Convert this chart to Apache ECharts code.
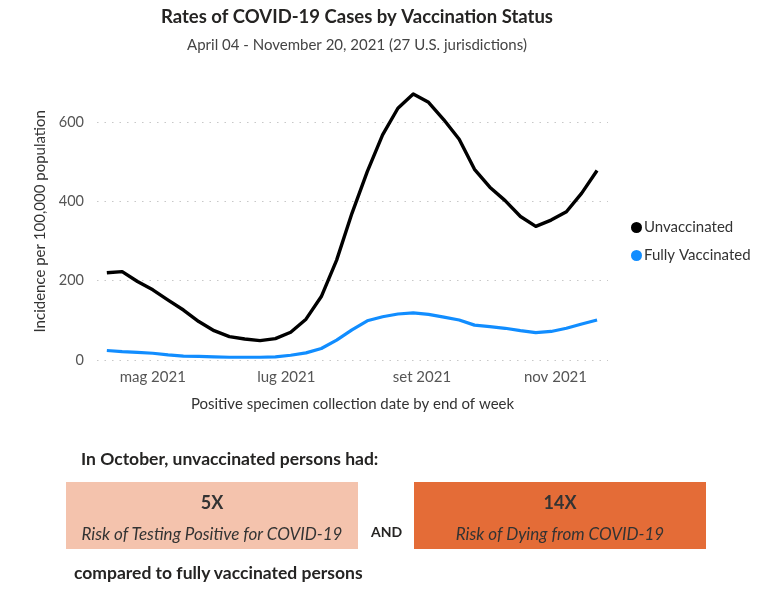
<!DOCTYPE html>
<html>
<head>
<meta charset="utf-8">
<title>Rates of COVID-19 Cases by Vaccination Status</title>
<script src="https://cdn.jsdelivr.net/npm/echarts@6/dist/echarts.min.js"></script>
<style>
    html, body { margin: 0; padding: 0; background: #fff; }
    #wrap { position: relative; width: 767px; height: 605px; font-family: Lato, "Open Sans", sans-serif; color: #252423; }
    #main { position: absolute; left: 0; top: 0; width: 767px; height: 605px; }
    .note { position: absolute; font-weight: bold; font-size: 17.5px; }
    .box { position: absolute; top: 482px; width: 292px; height: 67px; text-align: center; color: #333; }
    .box .big { font-weight: bold; font-size: 18px; margin-top: 9px; }
    .box .small { font-style: italic; font-size: 17px; margin-top: 10px; }
</style>
</head>
<body>
<div id="wrap">
    <div id="main"></div>
    <div class="note" style="left:81px; top:448px;">In October, unvaccinated persons had:</div>
    <div class="box" style="left:66px; background:#F4C3AD;">
        <div class="big">5X</div>
        <div class="small">Risk of Testing Positive for COVID-19</div>
    </div>
    <div class="note" style="left:371px; top:523px; font-size:14px;">AND</div>
    <div class="box" style="left:414px; background:#E46C37;">
        <div class="big">14X</div>
        <div class="small">Risk of Dying from COVID-19</div>
    </div>
    <div class="note" style="left:74px; top:562px;">compared to fully vaccinated persons</div>
</div>
<script>
// week ending dates (Saturdays)
var weekEnding = ['2021-04-10', '2021-04-17', '2021-04-24', '2021-05-01', '2021-05-08',
    '2021-05-15', '2021-05-22', '2021-05-29', '2021-06-05', '2021-06-12', '2021-06-19',
    '2021-06-26', '2021-07-03', '2021-07-10', '2021-07-17', '2021-07-24', '2021-07-31',
    '2021-08-07', '2021-08-14', '2021-08-21', '2021-08-28', '2021-09-04', '2021-09-11',
    '2021-09-18', '2021-09-25', '2021-10-02', '2021-10-09', '2021-10-16', '2021-10-23',
    '2021-10-30', '2021-11-06', '2021-11-13', '2021-11-20'];

var unvaccinated = [220, 223, 198, 177, 151, 126, 97, 74, 59, 53, 49, 54, 70, 103, 160, 252,
    370, 475, 568, 635, 671, 650, 606, 557, 481, 436, 402, 362, 337, 353, 374, 421, 478];

var fullyVaccinated = [24, 21, 19, 17, 13, 10, 9, 8, 7, 7, 7, 8, 12, 18, 29, 50, 76, 99,
    109, 116, 119, 115, 108, 101, 88, 84, 80, 74, 69, 72, 80, 91, 101];

var monthTicks = ['2021-05-01', '2021-07-01', '2021-09-01', '2021-11-01'];
var monthLabels = ['mag 2021', 'lug 2021', 'set 2021', 'nov 2021'];

var DAY = 24 * 3600 * 1000;
function ts(d) { return Date.parse(d + 'T00:00:00Z'); }
var tickValues = monthTicks.map(ts);

function pairs(values) {
    return values.map(function (v, i) { return [ts(weekEnding[i]), v]; });
}

var chart = echarts.init(document.getElementById('main'));
var option = {
    animation: false,
    title: {
        text: 'Rates of COVID-19 Cases by Vaccination Status',
        subtext: 'April 04 - November 20, 2021 (27 U.S. jurisdictions)',
        left: 352,
        textAlign: 'center',
        top: 3,
        itemGap: 11,
        textStyle: { fontFamily: 'Lato', fontWeight: 'bold', fontSize: 18.5, color: '#252423' },
        subtextStyle: { fontFamily: 'Lato', fontSize: 15, color: '#444' }
    },
    legend: {
        orient: 'vertical',
        left: 626,
        top: 215,
        itemGap: 13,
        itemWidth: 11,
        itemHeight: 11,
        icon: 'circle',
        textStyle: { fontFamily: 'Lato', fontSize: 15, color: '#333', padding: [0, 0, 0, -3] },
        data: ['Unvaccinated', 'Fully Vaccinated']
    },
    grid: { left: 97, right: 159, top: 82.5, bottom: 245 },
    xAxis: {
        type: 'value',
        min: ts(weekEnding[0]) - 4.5 * DAY,
        max: ts(weekEnding[weekEnding.length - 1]) + 5 * DAY,
        name: 'Positive specimen collection date by end of week',
        nameLocation: 'middle',
        nameGap: 37,
        nameTextStyle: { fontFamily: 'Lato', fontSize: 15, color: '#333' },
        axisLine: { show: false },
        axisTick: { show: false },
        splitLine: { show: false },
        axisLabel: {
            customValues: tickValues,
            margin: 10,
            fontFamily: 'Lato',
            fontSize: 15,
            color: '#555',
            formatter: function (val) {
                var i = tickValues.indexOf(+val);
                return i >= 0 ? monthLabels[i] : '';
            }
        }
    },
    yAxis: {
        type: 'value',
        min: 0,
        max: 700,
        interval: 200,
        name: 'Incidence per 100,000 population',
        nameLocation: 'middle',
        nameGap: 47,
        nameTextStyle: { fontFamily: 'Lato', fontSize: 15, color: '#333' },
        axisLine: { show: false },
        axisTick: { show: false },
        axisLabel: { fontFamily: 'Lato', fontSize: 14.5, color: '#555', margin: 13, showMaxLabel: false },
        splitLine: {
            showMaxLine: false,
            lineStyle: { color: '#C8C8C8', type: [1.5, 6], width: 1.2 }
        }
    },
    series: [
        {
            name: 'Unvaccinated',
            type: 'line',
            data: pairs(unvaccinated),
            showSymbol: false,
            symbol: 'circle',
            color: '#000000',
            lineStyle: { width: 3.4, join: 'round' },
            z: 3
        },
        {
            name: 'Fully Vaccinated',
            type: 'line',
            data: pairs(fullyVaccinated),
            showSymbol: false,
            symbol: 'circle',
            color: '#118DFF',
            lineStyle: { width: 3.2, join: 'round' },
            z: 2
        }
    ]
};
chart.setOption(option);
</script>
</body>
</html>
